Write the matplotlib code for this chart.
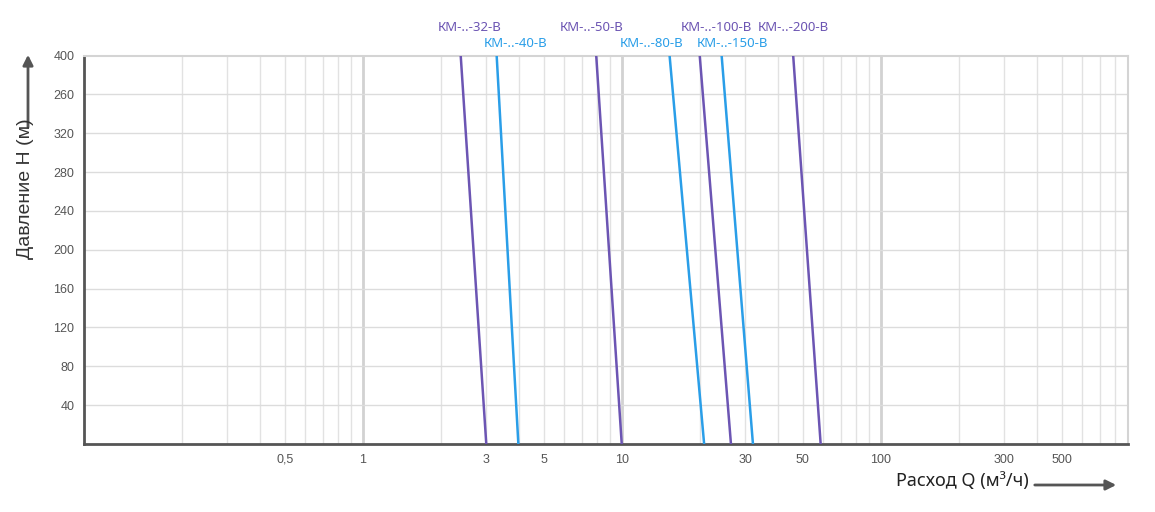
import numpy as np
import matplotlib
matplotlib.use('Agg')
import matplotlib.pyplot as plt

# Модели и расход (м3/ч) при H = 400 м и H = 0 м
models = ['КМ-..-32-В', 'КМ-..-40-В', 'КМ-..-50-В', 'КМ-..-80-В',
          'КМ-..-100-В', 'КМ-..-150-В', 'КМ-..-200-В']
q_top = [2.39, 3.29, 7.97, 15.3, 20.0, 24.3, 45.9]
q_bottom = [3.0, 3.99, 10.0, 20.8, 26.4, 32.1, 58.6]
h_top = 400
h_bottom = 0

x_ticks = [0.5, 1, 3, 5, 10, 30, 50, 100, 300, 500]
x_tick_labels = ['0,5', '1', '3', '5', '10', '30', '50', '100', '300', '500']
y_ticks = [40, 80, 120, 160, 200, 240, 280, 320, 360, 400]
y_tick_labels = ['40', '80', '120', '160', '200', '240', '280', '320', '260', '400']

# расположение подписей над графиком
label_q = [2.58, 3.89, 7.63, 13.1, 23.3, 26.7, 45.9]
label_row = [0, 1, 0, 1, 0, 1, 0]

PURPLE = '#6c55b3'
BLUE = '#2a9ee8'
colors = [PURPLE, BLUE, PURPLE, BLUE, PURPLE, BLUE, PURPLE]

W, H = 1155, 512
fig = plt.figure(figsize=(W / 100, H / 100), dpi=100)
ax = fig.add_axes([84 / W, 1 - 444 / H, (1128 - 84) / W, (444 - 55.5) / H])

ax.set_xscale('log')
ax.set_xlim(0.084, 900)
ax.set_ylim(0, 400)

# сетка
for dec in [0.1, 1, 10, 100]:
    for m in range(2, 10):
        v = dec * m
        if v < 900:
            ax.axvline(v, color='#e2e2e2', lw=1, zorder=0)
for v in [1, 10, 100]:
    ax.axvline(v, color='#d2d2d2', lw=2, zorder=0)
for v in y_ticks[:-1]:
    ax.axhline(v, color='#dcdcdc', lw=1, zorder=0)

for name, qt, qb, c in zip(models, q_top, q_bottom, colors):
    ax.plot([qt, qb], [h_top, h_bottom], color=c, lw=1.8, zorder=3)

for name, lq, row, c in zip(models, label_q, label_row, colors):
    yy = 1.073 if row == 0 else 1.032
    ax.text(lq, yy, name, transform=ax.get_xaxis_transform(), ha='center', va='center',
            color=c, fontsize=9.5, family='Noto Sans')

ax.set_xticks(x_ticks)
ax.set_xticklabels(x_tick_labels)
ax.xaxis.set_minor_locator(matplotlib.ticker.NullLocator())
ax.set_yticks(y_ticks)
ax.set_yticklabels(y_tick_labels)
ax.tick_params(length=0, labelsize=9, labelcolor='#555555', labelfontfamily='Liberation Sans')
ax.tick_params(axis='x', pad=7)
ax.tick_params(axis='y', pad=7)

for s in ['top', 'right']:
    ax.spines[s].set_color('#d4d4d4')
    ax.spines[s].set_linewidth(1.5)
for s in ['left', 'bottom']:
    ax.spines[s].set_color('#555555')
    ax.spines[s].set_linewidth(2)

# подписи осей со стрелками
fig.text(25 / W, 1 - 189 / H, 'Давление Н (м)', rotation=90, ha='center', va='center',
         fontsize=14, color='#333333', family='Liberation Sans')
fig.add_artist(matplotlib.patches.FancyArrowPatch(
    (28 / W, 1 - 130 / H), (28 / W, 1 - 52 / H), transform=fig.transFigure,
    arrowstyle='-|>,head_length=6,head_width=3', color='#555555', lw=2))

fig.text(962 / W, 1 - 481 / H, 'Расход Q (м³/ч)', ha='center', va='center',
         fontsize=13, color='#222222', family='Noto Sans')
fig.add_artist(matplotlib.patches.FancyArrowPatch(
    (1032 / W, 1 - 485 / H), (1119 / W, 1 - 485 / H), transform=fig.transFigure,
    arrowstyle='-|>,head_length=6,head_width=3', color='#555555', lw=2))

fig.savefig('out.png', dpi=100)
